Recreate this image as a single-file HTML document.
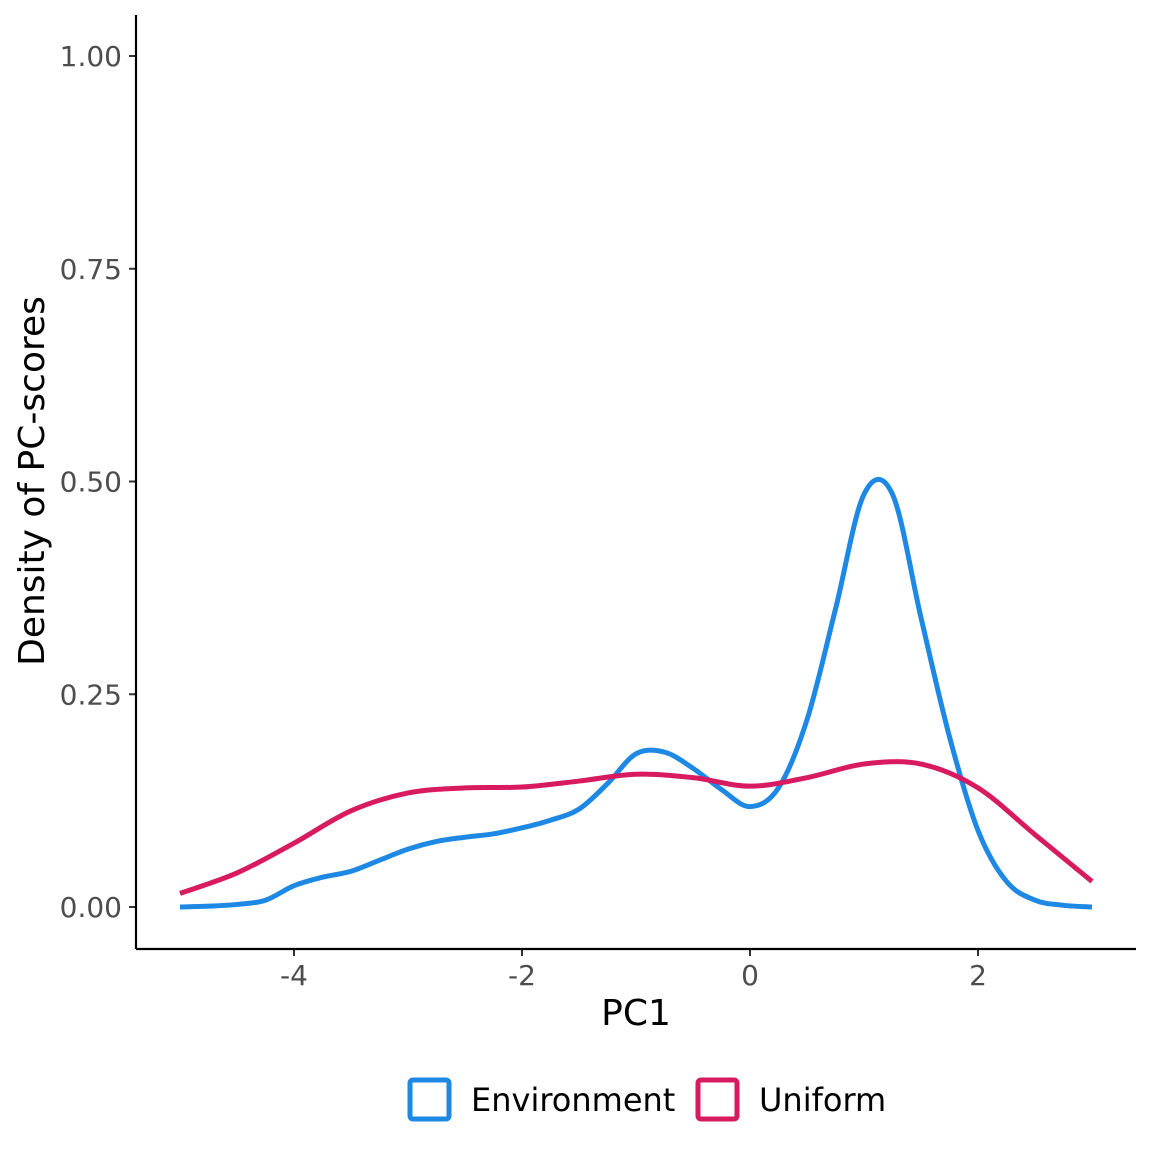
<!DOCTYPE html>
<html><head><meta charset="utf-8"><style>
body{margin:0;background:#fff}
svg text{font-family:"DejaVu Sans","Liberation Sans",sans-serif}
</style></head><body>
<svg id="chart" width="1152" height="1152" xmlns="http://www.w3.org/2000/svg">
<rect width="1152" height="1152" fill="#fff"/>
<g id="yticks"></g><g id="xticks"></g><g id="series"></g>
<line x1="136" y1="15" x2="136" y2="949" stroke="#000" stroke-width="2.2"/>
<line x1="136" y1="949" x2="1136" y2="949" stroke="#000" stroke-width="2.2"/>
<text x="636" y="1025" font-size="36" text-anchor="middle">PC1</text>
<text transform="translate(44,481) rotate(-90)" font-size="36" text-anchor="middle">Density of PC-scores</text>
<g>
<g>
<rect x="410" y="1080" width="39" height="39" rx="3" fill="none" stroke="#1E88E5" stroke-width="5"/>
<text x="471" y="1111" font-size="32">Environment</text></g>
<g>
<rect x="698" y="1080" width="39" height="39" rx="3" fill="none" stroke="#D81B60" stroke-width="5"/>
<text x="759" y="1111" font-size="32">Uniform</text></g>
</g>
</svg>
<script>
const yTicks=[0,0.25,0.5,0.75,1];
const yTickLabels=["0.00","0.25","0.50","0.75","1.00"];
const xTicks=[-4,-2,0,2];
const xTickLabels=["-4","-2","0","2"];
const envX=[-5,-4.75,-4.5,-4.25,-4,-3.75,-3.5,-3.25,-3,-2.75,-2.5,-2.25,-2,-1.75,-1.5,-1.25,-1,-0.75,-0.5,-0.25,0,0.25,0.5,0.75,1,1.25,1.5,1.75,2,2.25,2.5,2.75,3];
const envY=[0,0.001,0.003,0.008,0.025,0.035,0.042,0.055,0.068,0.077,0.082,0.086,0.093,0.102,0.115,0.145,0.18,0.182,0.163,0.138,0.118,0.14,0.22,0.35,0.485,0.485,0.34,0.2,0.09,0.03,0.008,0.002,0];
const uniX=[-5,-4.5,-4,-3.5,-3,-2.5,-2,-1.5,-1,-0.5,0,0.5,1,1.5,2,2.5,3];
const uniY=[0.016,0.04,0.075,0.113,0.134,0.14,0.141,0.148,0.156,0.152,0.142,0.152,0.168,0.168,0.14,0.085,0.03];
const sx=v=>750+v*114;
const sy=v=>907-v*851;
const NS="http://www.w3.org/2000/svg";
const yg=document.getElementById('yticks'),xg=document.getElementById('xticks'),sg=document.getElementById('series');
yTicks.forEach((t,i)=>{
 const l=document.createElementNS(NS,'line');
 l.setAttribute('x1',129);l.setAttribute('x2',136);l.setAttribute('y1',sy(t));l.setAttribute('y2',sy(t));l.setAttribute('stroke','#333');l.setAttribute('stroke-width',2);
 
 
 yg.appendChild(l);
 const tx=document.createElementNS(NS,'text');
 tx.setAttribute('x',122);tx.setAttribute('y',sy(t)+10);tx.setAttribute('text-anchor','end');tx.setAttribute('font-size',28);tx.setAttribute('fill','#4d4d4d');
 tx.textContent=yTickLabels[i];
 
 
 yg.appendChild(tx);
});
xTicks.forEach((t,i)=>{
 const l=document.createElementNS(NS,'line');
 l.setAttribute('x1',sx(t));l.setAttribute('x2',sx(t));l.setAttribute('y1',949);l.setAttribute('y2',956);l.setAttribute('stroke','#333');l.setAttribute('stroke-width',2);
 
 
 xg.appendChild(l);
 const tx=document.createElementNS(NS,'text');
 tx.setAttribute('x',sx(t));tx.setAttribute('y',985);tx.setAttribute('text-anchor','middle');tx.setAttribute('font-size',28);tx.setAttribute('fill','#4d4d4d');
 tx.textContent=xTickLabels[i];
 
 
 xg.appendChild(tx);
});
function smooth(xs,ys){
 const p=xs.map((x,i)=>[sx(x),sy(ys[i])]);
 let d='M'+p[0][0]+','+p[0][1];
 for(let i=0;i<p.length-1;i++){
  const p0=p[Math.max(0,i-1)],p1=p[i],p2=p[i+1],p3=p[Math.min(p.length-1,i+2)];
  const c1=[p1[0]+(p2[0]-p0[0])/6,p1[1]+(p2[1]-p0[1])/6];
  const c2=[p2[0]-(p3[0]-p1[0])/6,p2[1]-(p3[1]-p1[1])/6];
  d+=`C${c1[0]},${c1[1]} ${c2[0]},${c2[1]} ${p2[0]},${p2[1]}`;
 }
 return d;
}
[[envX,envY,'#1E88E5','environment-line'],[uniX,uniY,'#D81B60','uniform-line']].forEach(s=>{
 const p=document.createElementNS(NS,'path');
 p.setAttribute('d',smooth(s[0],s[1]));p.setAttribute('fill','none');p.setAttribute('stroke',s[2]);p.setAttribute('stroke-width',5);
 
 
 sg.appendChild(p);
});
</script>
</body></html>
